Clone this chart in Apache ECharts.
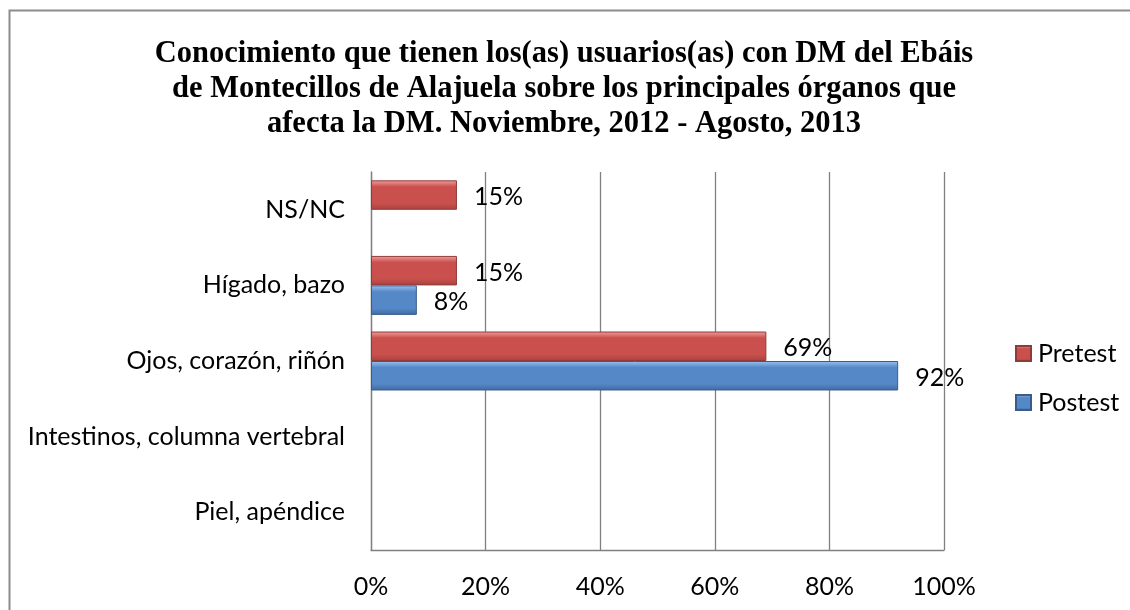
<!DOCTYPE html>
<html>
<head>
<meta charset="utf-8">
<script src="https://cdn.jsdelivr.net/npm/echarts@6/dist/echarts.min.js"></script>
<style>
  html, body { margin: 0; padding: 0; background: #ffffff; }
  #chart { width: 1130px; height: 610px; }
</style>
</head>
<body>
<div id="chart"></div>
<script>
// Chart content
const titleLines = [
  'Conocimiento que tienen los(as) usuarios(as) con DM del Ebáis',
  'de Montecillos de Alajuela sobre los principales órganos que',
  'afecta la DM. Noviembre, 2012 - Agosto, 2013'
];
const categories = ['NS/NC', 'Hígado, bazo', 'Ojos, corazón, riñón', 'Intestinos, columna vertebral', 'Piel, apéndice'];
const seriesNames = ['Pretest', 'Postest'];
const pretest = [15, 15, 69, 0, 0];
const postest = [0, 8, 92, 0, 0];
const xTicks = [0, 20, 40, 60, 80, 100];

const labelFont = 'Lato, "Noto Sans", sans-serif';
const labelSize = 25;

function bevel(top, mid, bottom) {
  return new echarts.graphic.LinearGradient(0, 0, 0, 1, [
    { offset: 0, color: top },
    { offset: 0.22, color: mid },
    { offset: 0.78, color: mid },
    { offset: 1, color: bottom }
  ]);
}
const redFill = bevel('#f2a09e', '#c9504d', '#a8403d');
const blueFill = bevel('#9cc3f2', '#5588c6', '#3d6ba5');

// zero values leave the bar empty
const asBars = arr => arr.map(v => (v === 0 ? '-' : v));

const chart = echarts.init(document.getElementById('chart'), null, { renderer: 'canvas' });
chart.setOption({
  backgroundColor: '#ffffff',
  animation: false,
  title: {
    text: titleLines.join('\n'),
    left: 559,
    textAlign: 'center',
    top: 32,
    textStyle: {
      fontFamily: '"Liberation Serif", "Times New Roman", serif',
      fontWeight: 'bold',
      fontSize: 30.5,
      lineHeight: 35,
      color: '#000000'
    }
  },
  legend: {
    orient: 'vertical',
    left: 1010,
    top: 335,
    icon: 'rect',
    itemWidth: 15,
    itemHeight: 15,
    itemGap: 22,
    data: seriesNames,
    textStyle: { fontFamily: labelFont, fontSize: labelSize, color: '#000', lineHeight: 27, padding: [0, 0, 0, 2] }
  },
  graphic: [{
    type: 'rect',
    shape: { x: 9.5, y: 10.5, width: 1300, height: 800 },
    style: { fill: 'none', stroke: '#8c8c8c', lineWidth: 2 },
    silent: true,
    z: 100
  }],
  grid: { left: 371, right: 186, top: 172, bottom: 60 },
  xAxis: {
    type: 'value',
    min: 0,
    max: 100,
    interval: 20,
    axisLine: { show: true, lineStyle: { color: '#808080', width: 1.3 } },
    axisTick: { show: false },
    splitLine: { show: true, lineStyle: { color: '#808080', width: 1.3 } },
    axisLabel: {
      margin: 24,
      fontFamily: labelFont,
      fontSize: labelSize,
      color: '#000',
      formatter: v => (xTicks.indexOf(v) >= 0 ? v + '%' : '')
    }
  },
  yAxis: {
    type: 'category',
    inverse: true,
    data: categories,
    axisLine: { show: true, lineStyle: { color: '#808080', width: 1.3 } },
    axisTick: { show: false },
    axisLabel: { margin: 26, fontFamily: labelFont, fontSize: labelSize, color: '#000' }
  },
  series: [
    {
      name: 'Pretest',
      type: 'bar',
      data: asBars(pretest),
      barGap: '0%',
      barCategoryGap: '22%',
      itemStyle: { color: redFill, borderColor: '#8e3b39', borderWidth: 1 },
      label: {
        show: true, position: 'right', distance: 17, offset: [0, 2],
        fontFamily: labelFont, fontSize: labelSize, color: '#000',
        formatter: p => p.value + '%'
      }
    },
    {
      name: 'Postest',
      type: 'bar',
      data: asBars(postest),
      barGap: '0%',
      barCategoryGap: '22%',
      itemStyle: { color: blueFill, borderColor: '#385d8a', borderWidth: 1 },
      label: {
        show: true, position: 'right', distance: 17, offset: [0, 2],
        fontFamily: labelFont, fontSize: labelSize, color: '#000',
        formatter: p => p.value + '%'
      }
    }
  ]
});
</script>
</body>
</html>
